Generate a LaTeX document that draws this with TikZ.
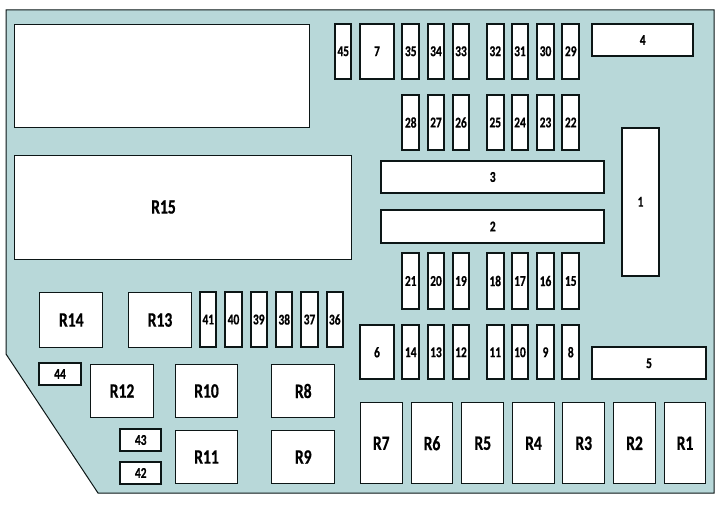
\documentclass[tikz,border=0pt]{standalone}
\usepackage{fontspec}
\setmainfont{Carlito}[FakeStretch=0.76,BoldFeatures={FakeBold=0.6}]
\definecolor{board}{HTML}{B8D8D9}
\definecolor{edge}{HTML}{0C1616}
\tikzset{
  partbase/.style={draw=edge,fill=white,inner sep=0pt,font=\bfseries,text=black},
  fuse/.style={partbase,line width=2pt,font=\bfseries\fontsize{15}{15}\selectfont},
  wide/.style={partbase,line width=2pt,font=\bfseries\fontsize{15}{15}\selectfont},
  relay/.style={partbase,line width=1pt,font=\bfseries\fontsize{20.5}{20.5}\selectfont},
  boardshape/.style={draw=edge,fill=board,line width=1pt},
}
\newcommand{\partbox}[6]{% style, x0, y0, x1, y1, label
  \pgfmathsetmacro{\cxx}{(#2+#4)/2}
  \pgfmathsetmacro{\cyy}{(#3+#5)/2}
  \pgfmathsetmacro{\www}{#4-#2-0.5}
  \pgfmathsetmacro{\hhh}{#5-#3-0.5}
  \node[#1,minimum width=\www pt,minimum height=\hhh pt] (p#6#2) at (\cxx,\cyy) {#6};
}
\newcommand{\fuserow}[3]{% y0, y1, list x/label
  \foreach \xa/\xb/\lab in {#3} {\partbox{fuse}{\xa}{#1}{\xb}{#2}{\lab}}
}
\begin{document}
\begin{tikzpicture}[x=1pt,y=-1pt]
\useasboundingbox (0,0) rectangle (720,505);
\draw[boardshape] (6,10) -- (714,10) -- (714,493) -- (98,493) -- (6,354) -- cycle;
% large blocks
\partbox{relay}{14.5}{24}{309.5}{128}{}
\partbox{relay}{14.5}{155.5}{352}{259.5}{}
\node[font=\bfseries\fontsize{20.5}{20.5}\selectfont] (r15) at (163.5,207) {R15};
% top fuses
\fuserow{23.5}{79}{335/351.5/45,360/394/7,402/419.5/35,427.5/444.5/34,452.5/469.5/33,486.5/504/32,511.5/528.5/31,537/554/30,562/579.5/29}
\partbox{wide}{592}{23.5}{693.5}{56.5}{4}
\fuserow{95}{150}{402/419.5/28,427.5/444.5/27,452.5/469.5/26,486.5/504/25,511.5/528.5/24,537/554/23,562/579.5/22}
\partbox{wide}{381}{161}{604.5}{193}{3}
\partbox{wide}{381}{210}{604.5}{243}{2}
\partbox{wide}{621.5}{127.5}{659.5}{276}{1}
\fuserow{253}{309}{402/419.5/21,427.5/444.5/20,452.5/469.5/19,486.5/504/18,511.5/528.5/17,537/554/16,562/579.5/15}
\fuserow{325}{379.5}{360/394/6,402/419.5/14,427.5/444.5/13,452.5/469.5/12,486.5/504/11,511.5/528.5/10,537/554/9,562/579.5/8}
\partbox{wide}{592}{347}{706}{379.5}{5}
% bottom relays
\foreach \xa/\xb/\lab in {360/402.5/R7,411/453/R6,461.5/504/R5,512.5/554.5/R4,562.5/605/R3,613.5/655.5/R2,664/706/R1}
  {\partbox{relay}{\xa}{402.5}{\xb}{484}{\lab}}
% left group
\partbox{relay}{39.5}{292.5}{103}{347.5}{R14}
\partbox{relay}{128}{292.5}{192}{347.5}{R13}
\fuserow{292}{347}{200/216.5/41,225/242/40,250.5/267/39,276/292.5/38,301/318/37,326.5/343/36}
\partbox{wide}{39}{363}{81}{385}{44}
\partbox{relay}{90.5}{364}{153.5}{418}{R12}
\partbox{relay}{175}{364}{238}{418}{R10}
\partbox{relay}{271.5}{364}{335}{418}{R8}
\partbox{relay}{175}{430}{238}{484}{R11}
\partbox{relay}{271.5}{430}{335}{484}{R9}
\partbox{wide}{120}{429}{161.5}{451}{43}
\partbox{wide}{120}{462}{161.5}{484}{42}
\end{tikzpicture}
\end{document}
